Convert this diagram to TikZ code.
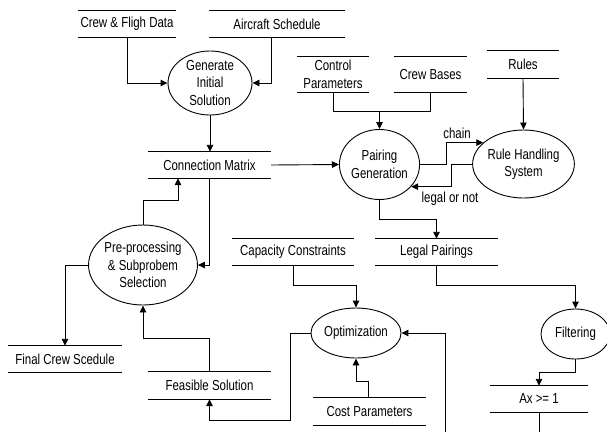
\documentclass[tikz,border=0pt]{standalone}
\usepackage{fontspec}
\setmainfont{Liberation Sans}[FakeStretch=0.79]
\usetikzlibrary{arrows.meta,shapes.geometric}
\begin{document}
\begin{tikzpicture}[x=1pt,y=-1pt,
  every node/.style={font=\fontsize{14.5}{17.5}\selectfont, text=black},
  stline/.style={draw=black, line width=0.9pt},
  store/.style={inner sep=0pt, align=center,
    append after command={(\tikzlastnode.north west) edge[stline] (\tikzlastnode.north east)
                          (\tikzlastnode.south west) edge[stline] (\tikzlastnode.south east)}},
  proc/.style={ellipse, draw=black, line width=0.9pt, inner sep=0pt, align=center},
  arr/.style={draw=black, line width=0.9pt, -{Triangle[length=7pt,width=6.5pt]}},
  ln/.style={draw=black, line width=0.9pt}
]
\useasboundingbox (0,0) rectangle (607,432);

% data stores
\node[store, minimum width=98pt, minimum height=26pt] (crew) at (127,24) {Crew \& Fligh Data};
\node[store, minimum width=136pt, minimum height=26pt] (air) at (277,24) {Aircraft Schedule};
\node[store, minimum width=72pt, minimum height=35pt] (ctrl) at (333,74.5) {Control\\Parameters};
\node[store, minimum width=73pt, minimum height=35pt] (bases) at (430.5,74.5) {Crew Bases};
\node[store, minimum width=72pt, minimum height=27pt] (rules) at (523,64.5) {Rules};
\node[store, minimum width=123pt, minimum height=26pt] (conn) at (209.5,165) {Connection Matrix};
\node[store, minimum width=122pt, minimum height=26pt] (cap) at (293,252) {Capacity Constraints};
\node[store, minimum width=123pt, minimum height=26pt] (legal) at (436.5,252) {Legal Pairings};
\node[store, minimum width=114pt, minimum height=26pt] (final) at (65,359) {Final Crew Scedule};
\node[store, minimum width=123pt, minimum height=27pt] (feas) at (209.5,385.5) {Feasible Solution};
\node[store, minimum width=113pt, minimum height=27pt] (cost) at (369.5,411.5) {Cost Parameters};
\node[store, minimum width=98pt, minimum height=26pt] (ax) at (539,399) {Ax >= 1};

% processes
\node[proc, minimum width=84pt, minimum height=60pt] (gen) at (210,83) {Generate\\Initial\\Solution};
\node[proc, minimum width=73pt, minimum height=70pt] (pair) at (379.5,164.5) {Pairing\\Generation};
\node[proc, minimum width=93pt, minimum height=68pt] (rule) at (523.5,164) {Rule Handling\\System};
\node[proc, minimum width=92pt, minimum height=80pt] (pre) at (143,265) {Pre-processing\\\& Subprobem\\Selection};
\node[proc, minimum width=88pt, minimum height=50pt] (opt) at (356,333) {Optimization};
\node[proc, minimum width=69pt, minimum height=50pt] (filt) at (575.5,334) {Filtering};

% labels
\node (lchain) at (457,133) {chain};
\node (llegal) at (450,199) {legal or not};

% coordinates
\coordinate (jc) at (379.5,111);
\coordinate (b1) at (445,432);
\coordinate (b2) at (539,432);

% connectors
\draw[arr] (crew.south) |- (gen.west);
\draw[arr] ([xshift=-6pt]air.south) |- (gen.east);
\draw[arr] (gen.south) -- (gen.south |- conn.north);
\draw[arr] (conn.east) -- (pair.west);
\draw[ln] (ctrl.south) |- (bases.south |- jc) -- (bases.south);
\draw[arr] (jc) -- (pair.north);
\draw[arr] (rules.south) -- (rule.north);
\draw[arr] (pair.east) -- ++(26,0) |- (rule.152);
\draw[arr] (rule.west) -- ++(-21,0) |- (pair.-35);
\draw[arr] (pair.south) -- ++(0,19) -| (legal.north);
\draw[arr] (conn.south) |- (pre.east);
\draw[arr] (pre.north) -- ++(0,-24) -| ([xshift=-31.5pt]conn.south);
\draw[arr] (pre.west) -| (final.north);
\draw[arr] (feas.north) -- ++(0,-33) -| (pre.south);
\draw[arr] (opt.west) -- ++(-20,0) -- ++(0,87) -| (feas.south);
\draw[arr] (cap.south) -- ++(0,20) -| (opt.north);
\draw[arr] ([xshift=-1.5pt]cost.north) -- ++(0,-16) -| (opt.south);
\draw[arr] (b1) |- (opt.east);
\draw[arr] (legal.south) -- ++(0,20) -| (filt.north);
\draw[arr] (filt.south) -- ++(0,13) -| (ax.north);
\draw[ln] (ax.south) -- (b2);
\end{tikzpicture}
\end{document}
